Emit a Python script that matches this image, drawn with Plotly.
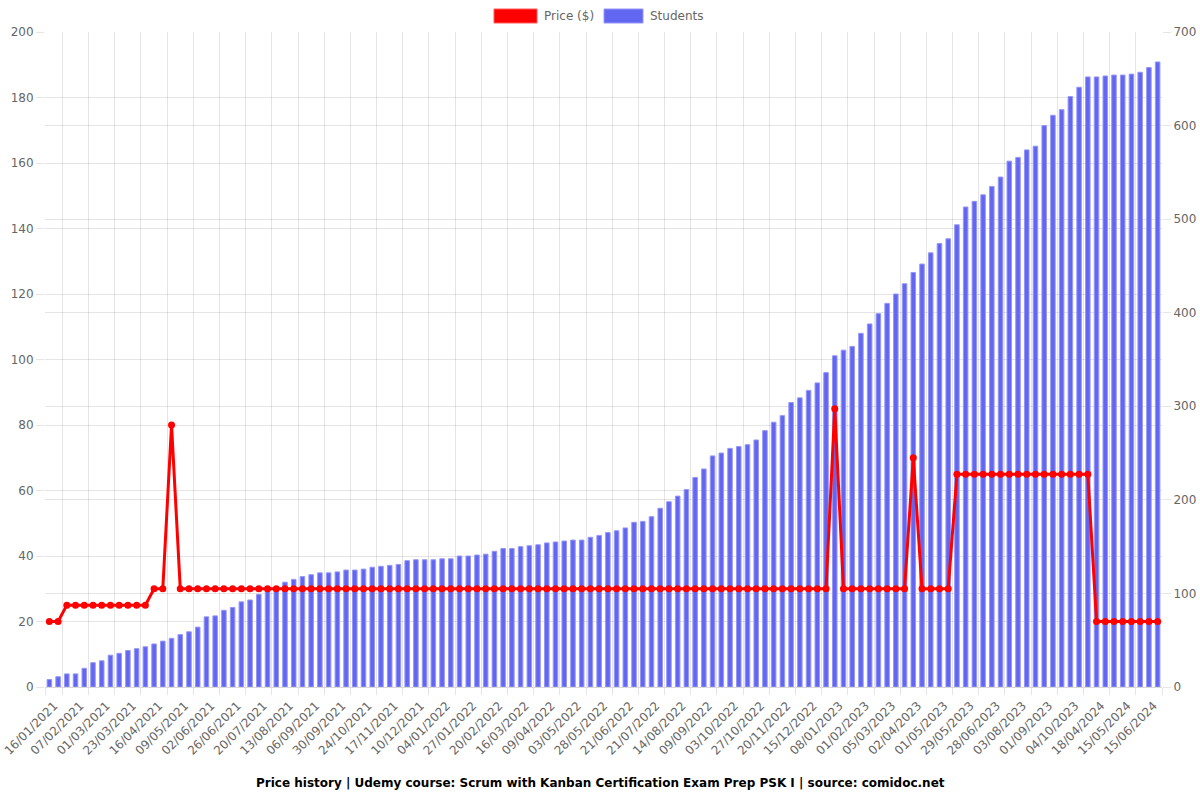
import plotly.graph_objects as go

dates = [
    "08/01/2021", "16/01/2021", "24/01/2021", "31/01/2021", "07/02/2021", "15/02/2021", "22/02/2021", "01/03/2021",
    "08/03/2021", "16/03/2021", "23/03/2021", "31/03/2021", "08/04/2021", "16/04/2021", "24/04/2021", "01/05/2021",
    "09/05/2021", "17/05/2021", "25/05/2021", "02/06/2021", "10/06/2021", "18/06/2021", "26/06/2021", "04/07/2021",
    "12/07/2021", "20/07/2021", "28/07/2021", "05/08/2021", "13/08/2021", "21/08/2021", "29/08/2021", "06/09/2021",
    "14/09/2021", "22/09/2021", "30/09/2021", "08/10/2021", "16/10/2021", "24/10/2021", "01/11/2021", "09/11/2021",
    "17/11/2021", "25/11/2021", "02/12/2021", "10/12/2021", "18/12/2021", "27/12/2021", "04/01/2022", "12/01/2022",
    "19/01/2022", "27/01/2022", "04/02/2022", "12/02/2022", "20/02/2022", "28/02/2022", "08/03/2022", "16/03/2022",
    "24/03/2022", "01/04/2022", "09/04/2022", "17/04/2022", "25/04/2022", "03/05/2022", "11/05/2022", "20/05/2022",
    "28/05/2022", "05/06/2022", "13/06/2022", "21/06/2022", "01/07/2022", "11/07/2022", "21/07/2022", "29/07/2022",
    "06/08/2022", "14/08/2022", "22/08/2022", "31/08/2022", "09/09/2022", "17/09/2022", "25/09/2022", "03/10/2022",
    "11/10/2022", "19/10/2022", "27/10/2022", "04/11/2022", "12/11/2022", "20/11/2022", "28/11/2022", "07/12/2022",
    "15/12/2022", "23/12/2022", "31/12/2022", "08/01/2023", "16/01/2023", "24/01/2023", "01/02/2023", "11/02/2023",
    "21/02/2023", "05/03/2023", "14/03/2023", "24/03/2023", "02/04/2023", "12/04/2023", "21/04/2023", "01/05/2023",
    "10/05/2023", "19/05/2023", "29/05/2023", "08/06/2023", "18/06/2023", "28/06/2023", "10/07/2023", "22/07/2023",
    "03/08/2023", "13/08/2023", "23/08/2023", "01/09/2023", "12/09/2023", "23/09/2023", "04/10/2023", "20/11/2023",
    "25/03/2024", "18/04/2024", "26/04/2024", "06/05/2024", "15/05/2024", "25/05/2024", "05/06/2024", "15/06/2024",
]

students = [
    8, 11, 14, 14, 20, 26, 28, 34, 36, 39, 41, 43, 46, 49, 52, 56,
    59, 64, 75, 76, 82, 85, 91, 93, 99, 103, 105, 112, 115, 118, 120, 122,
    122, 123, 125, 125, 126, 128, 129, 130, 131, 135, 136, 136, 136, 137, 137, 140,
    140, 141, 142, 145, 148, 148, 150, 151, 152, 154, 155, 156, 157, 157, 160, 162,
    165, 167, 170, 176, 177, 182, 191, 198, 204, 211, 224, 233, 247, 250, 255, 257,
    259, 264, 274, 283, 290, 304, 309, 317, 325, 336, 354, 360, 364, 378, 388, 399,
    410, 420, 431, 443, 452, 464, 474, 479, 494, 513, 519, 526, 535, 545, 562, 566,
    574, 578, 600, 611, 617, 631, 641, 652, 652, 653, 654, 654, 655, 657, 662, 668,
]

price = [
    20, 20, 25, 25, 25, 25, 25, 25, 25, 25, 25, 25, 30, 30, 80, 30,
    30, 30, 30, 30, 30, 30, 30, 30, 30, 30, 30, 30, 30, 30, 30, 30,
    30, 30, 30, 30, 30, 30, 30, 30, 30, 30, 30, 30, 30, 30, 30, 30,
    30, 30, 30, 30, 30, 30, 30, 30, 30, 30, 30, 30, 30, 30, 30, 30,
    30, 30, 30, 30, 30, 30, 30, 30, 30, 30, 30, 30, 30, 30, 30, 30,
    30, 30, 30, 30, 30, 30, 30, 30, 30, 30, 85, 30, 30, 30, 30, 30,
    30, 30, 30, 70, 30, 30, 30, 30, 65, 65, 65, 65, 65, 65, 65, 65,
    65, 65, 65, 65, 65, 65, 65, 65, 20, 20, 20, 20, 20, 20, 20, 20,
]

tick_labels = dates[1::3]

title_text = "Price history | Udemy course: Scrum with Kanban Certification Exam Prep PSK I | source: comidoc.net"

FONT = "DejaVu Sans"
GRID = "rgba(0,0,0,0.1)"
BAR = "#6366f1"
BAR_EDGE = "rgba(150,152,246,1)"

n = len(dates)
label_idx = list(range(1, n, 3))
grid_vals = [-0.5] + [i + 0.5 for i in label_idx]

fig = go.Figure()
fig.add_trace(go.Bar(
    x=dates, y=students, name="Students", yaxis="y", xaxis="x",
    marker=dict(color=BAR, line=dict(color=BAR_EDGE, width=1)),
    width=0.52, showlegend=False,
))
fig.add_trace(go.Scatter(
    x=dates, y=price, name="Price ($)", yaxis="y2", xaxis="x",
    mode="lines+markers",
    line=dict(color="#ff0000", width=3),
    marker=dict(color="#ff0000", size=7),
    showlegend=False,
))
# empty helper trace so the vertical-grid axis (x2) gets drawn
fig.add_trace(go.Scatter(
    x=[grid_vals[0], grid_vals[-1]], y=[0, 0], xaxis="x2", yaxis="y",
    mode="none", hoverinfo="skip", showlegend=False,
))

fig.update_layout(
    width=1200, height=800,
    margin=dict(l=45, r=38, t=32, b=113),
    paper_bgcolor="white", plot_bgcolor="white",
    font=dict(family=FONT, size=12, color="#666"),
    xaxis=dict(
        type="category", range=[-0.5, n - 0.5], automargin=False,
        tickmode="array", tickvals=tick_labels, ticktext=tick_labels,
        tickangle=-45, showgrid=False, zeroline=False,
        ticks="outside", ticklen=6, tickcolor="rgba(0,0,0,0)",
        ticklabelshift=-4,
        showline=True, linecolor="rgba(0,0,0,0.15)", linewidth=1,
        tickfont=dict(family=FONT, size=12, color="#666"),
    ),
    xaxis2=dict(
        overlaying="x", anchor="y", range=[-0.5, n - 0.5], automargin=False,
        tickmode="array", tickvals=grid_vals, showticklabels=False,
        showgrid=True, gridcolor=GRID, gridwidth=1, zeroline=False,
        ticks="outside", ticklen=7, tickcolor=GRID, side="bottom",
        showline=False,
    ),
    yaxis=dict(
        side="right", range=[0, 700], dtick=100, automargin=False,
        showgrid=True, gridcolor=GRID, zeroline=False,
        ticks="outside", ticklen=8, tickcolor=GRID,
        tickfont=dict(family=FONT, size=12, color="#666"),
    ),
    yaxis2=dict(
        side="left", overlaying="y", range=[0, 200], dtick=20, automargin=False,
        showgrid=True, gridcolor=GRID, zeroline=False,
        ticks="outside", ticklen=8, tickcolor=GRID,
        tickfont=dict(family=FONT, size=12, color="#666"),
    ),
)

# manual legend (Chart.js-like boxes)
def px_x(p):
    return (p - 45) / 1117.0

def px_y(p):
    return (687 - p) / 655.0

legend_items = [("Price ($)", "#ff0000", "rgba(255,90,90,1)", 494, 537),
                ("Students", BAR, BAR_EDGE, 604, 643)]
for label, fill, edge, x0, x1 in legend_items:
    fig.add_shape(type="rect", xref="paper", yref="paper",
                  x0=px_x(x0), x1=px_x(x1), y0=px_y(23), y1=px_y(9),
                  fillcolor=fill, line=dict(color=edge, width=1))
    fig.add_annotation(xref="paper", yref="paper", x=px_x(x1 + 5), y=px_y(16),
                       text=label, showarrow=False, xanchor="left", yanchor="middle",
                       font=dict(family=FONT, size=12, color="#666"))

fig.add_annotation(xref="paper", yref="paper", x=px_x(600), y=px_y(783),
                   text="<b>" + title_text + "</b>", showarrow=False,
                   xanchor="center", yanchor="middle",
                   font=dict(family=FONT, size=12, color="#000"))

fig.write_html("out.html")
